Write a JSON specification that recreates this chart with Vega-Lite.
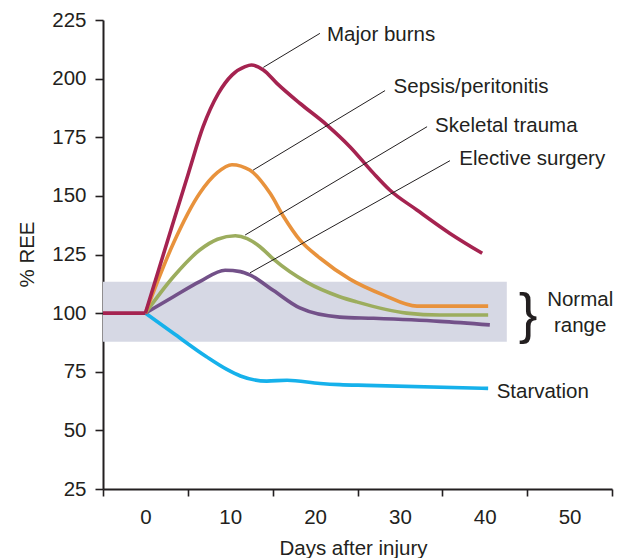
{
  "$schema": "https://vega.github.io/schema/vega-lite/v6.json",
  "width": 509,
  "height": 469,
  "autosize": {"type": "none"},
  "padding": {"left": 103, "top": 20, "right": 10, "bottom": 69},
  "background": "white",
  "config": {
    "view": {"stroke": null},
    "font": "Liberation Sans",
    "axis": {
      "grid": false,
      "domainColor": "#231F20",
      "domainWidth": 2,
      "tickColor": "#231F20",
      "tickWidth": 1.6,
      "labelFont": "Liberation Sans",
      "labelFontSize": 20.5,
      "labelColor": "#231F20",
      "titleFont": "Liberation Sans",
      "titleFontSize": 20.5,
      "titleFontWeight": "normal",
      "titleColor": "#231F20",
      "labelFlush": false,
      "labelOverlap": false
    }
  },
  "datasets": {
    "band": [{"x0": -5, "x1": 42.6, "lo": 87.8, "hi": 113.4}],
    "curves": [
      {"series": "Starvation", "day": 0, "ree": 100},
      {"series": "Starvation", "day": 3.3, "ree": 91.4},
      {"series": "Starvation", "day": 7.2, "ree": 81.4},
      {"series": "Starvation", "day": 9.6, "ree": 76},
      {"series": "Starvation", "day": 11.2, "ree": 73.2},
      {"series": "Starvation", "day": 14.3, "ree": 71},
      {"series": "Starvation", "day": 16.7, "ree": 71.4},
      {"series": "Starvation", "day": 20.6, "ree": 70},
      {"series": "Starvation", "day": 22.9, "ree": 69.5},
      {"series": "Starvation", "day": 26.1, "ree": 69.2},
      {"series": "Starvation", "day": 40.4, "ree": 67.9},
      {"series": "Elective surgery", "day": 0, "ree": 100},
      {"series": "Elective surgery", "day": 3.3, "ree": 107},
      {"series": "Elective surgery", "day": 6.4, "ree": 113.4},
      {"series": "Elective surgery", "day": 9.4, "ree": 118.3},
      {"series": "Elective surgery", "day": 11.2, "ree": 117.7},
      {"series": "Elective surgery", "day": 12.3, "ree": 116.3},
      {"series": "Elective surgery", "day": 15.1, "ree": 109.6},
      {"series": "Elective surgery", "day": 18.2, "ree": 102.2},
      {"series": "Elective surgery", "day": 22.9, "ree": 98.3},
      {"series": "Elective surgery", "day": 26.9, "ree": 97.8},
      {"series": "Elective surgery", "day": 34.7, "ree": 96.5},
      {"series": "Elective surgery", "day": 40.6, "ree": 95},
      {"series": "Skeletal trauma", "day": 0, "ree": 100},
      {"series": "Skeletal trauma", "day": 3.3, "ree": 115.5},
      {"series": "Skeletal trauma", "day": 6.4, "ree": 126.9},
      {"series": "Skeletal trauma", "day": 8.5, "ree": 131.5},
      {"series": "Skeletal trauma", "day": 10.6, "ree": 133},
      {"series": "Skeletal trauma", "day": 12, "ree": 131.8},
      {"series": "Skeletal trauma", "day": 13.5, "ree": 128.3},
      {"series": "Skeletal trauma", "day": 15.1, "ree": 123},
      {"series": "Skeletal trauma", "day": 19, "ree": 113.2},
      {"series": "Skeletal trauma", "day": 22.9, "ree": 107},
      {"series": "Skeletal trauma", "day": 24.9, "ree": 104.8},
      {"series": "Skeletal trauma", "day": 30.8, "ree": 100},
      {"series": "Skeletal trauma", "day": 34.7, "ree": 99.2},
      {"series": "Skeletal trauma", "day": 40.4, "ree": 99.2},
      {"series": "Sepsis/peritonitis", "day": 0, "ree": 100},
      {"series": "Sepsis/peritonitis", "day": 3.3, "ree": 129.8},
      {"series": "Sepsis/peritonitis", "day": 6.4, "ree": 151.1},
      {"series": "Sepsis/peritonitis", "day": 8.5, "ree": 160},
      {"series": "Sepsis/peritonitis", "day": 10.2, "ree": 163.3},
      {"series": "Sepsis/peritonitis", "day": 12.3, "ree": 161},
      {"series": "Sepsis/peritonitis", "day": 14.7, "ree": 151.1},
      {"series": "Sepsis/peritonitis", "day": 16.3, "ree": 141.1},
      {"series": "Sepsis/peritonitis", "day": 18.2, "ree": 131.2},
      {"series": "Sepsis/peritonitis", "day": 20.6, "ree": 123.4},
      {"series": "Sepsis/peritonitis", "day": 24.1, "ree": 114.5},
      {"series": "Sepsis/peritonitis", "day": 28.1, "ree": 107.7},
      {"series": "Sepsis/peritonitis", "day": 32, "ree": 103},
      {"series": "Sepsis/peritonitis", "day": 40.4, "ree": 103},
      {"series": "Major burns", "day": 0, "ree": 100},
      {"series": "Major burns", "day": 3.3, "ree": 139},
      {"series": "Major burns", "day": 5.1, "ree": 160},
      {"series": "Major burns", "day": 6.8, "ree": 179.5},
      {"series": "Major burns", "day": 8.6, "ree": 193.7},
      {"series": "Major burns", "day": 10.2, "ree": 201.5},
      {"series": "Major burns", "day": 11.75, "ree": 205.1},
      {"series": "Major burns", "day": 12.5, "ree": 205.8},
      {"series": "Major burns", "day": 13.9, "ree": 203.7},
      {"series": "Major burns", "day": 15.5, "ree": 198},
      {"series": "Major burns", "day": 18.2, "ree": 189.5},
      {"series": "Major burns", "day": 21.4, "ree": 180.2},
      {"series": "Major burns", "day": 24.1, "ree": 171},
      {"series": "Major burns", "day": 26.9, "ree": 159.6},
      {"series": "Major burns", "day": 28.8, "ree": 152.5},
      {"series": "Major burns", "day": 32, "ree": 144},
      {"series": "Major burns", "day": 35.9, "ree": 134},
      {"series": "Major burns", "day": 39.7, "ree": 125.5},
      {"series": "Baseline", "day": -5, "ree": 100},
      {"series": "Baseline", "day": 0, "ree": 100}
    ],
    "leaders": [
      {"x0": 20.57, "y0": 219.3, "x1": 13.9, "y1": 204.8},
      {"x0": 28.25, "y0": 194.9, "x1": 12.7, "y1": 161.0},
      {"x0": 33.2, "y0": 179.5, "x1": 11.75, "y1": 133.3},
      {"x0": 35.9, "y0": 165.0, "x1": 12.33, "y1": 117.2}
    ],
    "labels": [
      {"label": "Major burns", "x": 21.4, "y": 216.2},
      {"label": "Sepsis/peritonitis", "x": 29.25, "y": 193.7},
      {"label": "Skeletal trauma", "x": 34.15, "y": 177.4},
      {"label": "Elective surgery", "x": 37.0, "y": 163.2},
      {"label": "Starvation", "x": 41.4, "y": 63.9}
    ],
    "normal": [
      {"label": "Normal", "x": 51.25, "y": 103.2},
      {"label": "range", "x": 51.25, "y": 92.0}
    ],
    "brace": [{"label": "}", "x": 45.1, "y": 99.2}]
  },
  "layer": [
    {
      "data": {"name": "band"},
      "mark": {"type": "rect", "color": "#D6D8E4"},
      "encoding": {
        "x": {
          "field": "x0", "type": "quantitative",
          "scale": {"domain": [-5, 55], "nice": false, "zero": false},
          "axis": {
            "values": [-5, 0, 5, 10, 15, 20, 25, 30, 35, 40, 45, 50, 55],
            "labelExpr": "datum.value % 10 === 0 ? datum.label : ''",
            "tickSize": 7,
            "tickOpacity": {"condition": {"test": "datum.value % 10 === 0", "value": 0}, "value": 1},
            "labelPadding": 11,
            "title": "Days after injury",
            "titleX": 250,
            "titleY": 65,
            "titleBaseline": "alphabetic"
          }
        },
        "x2": {"field": "x1"},
        "y": {
          "field": "lo", "type": "quantitative",
          "scale": {"domain": [25, 225], "nice": false, "zero": false},
          "axis": {
            "values": [25, 50, 75, 100, 125, 150, 175, 200, 225],
            "tickSize": 8,
            "labelPadding": 9,
            "title": "% REE",
            "titleX": -70,
            "titleY": 234,
            "titleBaseline": "alphabetic"
          }
        },
        "y2": {"field": "hi"}
      }
    },
    {
      "data": {"name": "curves"},
      "mark": {"type": "line", "interpolate": "monotone", "strokeWidth": 3.6, "strokeCap": "butt"},
      "encoding": {
        "x": {"field": "day", "type": "quantitative"},
        "y": {"field": "ree", "type": "quantitative"},
        "color": {
          "field": "series", "type": "nominal",
          "scale": {
            "domain": ["Starvation", "Elective surgery", "Skeletal trauma", "Sepsis/peritonitis", "Major burns", "Baseline"],
            "range": ["#16B1EB", "#735189", "#9CAD5E", "#E8923C", "#A52350", "#A52350"]
          },
          "legend": null
        },
        "order": {"field": "day", "type": "quantitative"}
      }
    },
    {
      "data": {"name": "leaders"},
      "mark": {"type": "rule", "color": "#231F20", "strokeWidth": 1},
      "encoding": {
        "x": {"field": "x0", "type": "quantitative"},
        "y": {"field": "y0", "type": "quantitative"},
        "x2": {"field": "x1"},
        "y2": {"field": "y1"}
      }
    },
    {
      "data": {"name": "labels"},
      "mark": {"type": "text", "align": "left", "baseline": "alphabetic", "fontSize": 20.5, "color": "#231F20", "font": "Liberation Sans"},
      "encoding": {
        "x": {"field": "x", "type": "quantitative"},
        "y": {"field": "y", "type": "quantitative"},
        "text": {"field": "label"}
      }
    },
    {
      "data": {"name": "normal"},
      "mark": {"type": "text", "align": "center", "baseline": "alphabetic", "fontSize": 20.5, "color": "#231F20", "font": "Liberation Sans"},
      "encoding": {
        "x": {"field": "x", "type": "quantitative"},
        "y": {"field": "y", "type": "quantitative"},
        "text": {"field": "label"}
      }
    },
    {
      "data": {"name": "brace"},
      "mark": {"type": "text", "align": "center", "baseline": "middle", "fontSize": 56, "color": "#231F20", "font": "Liberation Sans"},
      "encoding": {
        "x": {"field": "x", "type": "quantitative"},
        "y": {"field": "y", "type": "quantitative"},
        "text": {"field": "label"}
      }
    }
  ]
}
